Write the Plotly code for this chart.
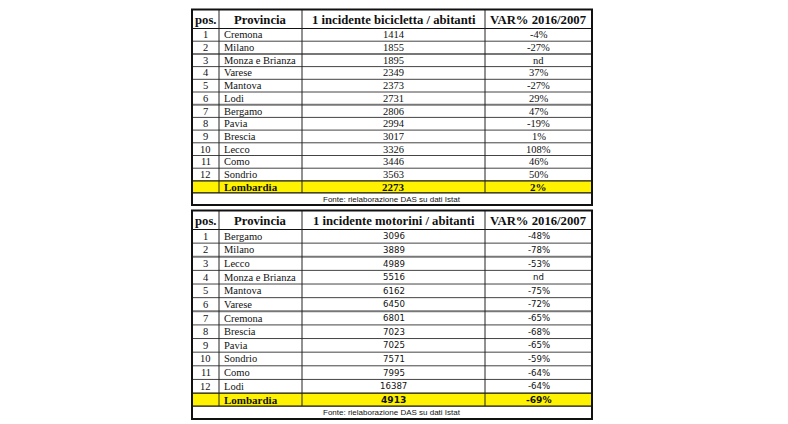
import plotly.graph_objects as go

# ---------------- data ----------------
headers_bici = ["pos.", "Provincia", "1 incidente bicicletta / abitanti", "VAR% 2016/2007"]
pos_bici = [1, 2, 3, 4, 5, 6, 7, 8, 9, 10, 11, 12]
prov_bici = ["Cremona", "Milano", "Monza e Brianza", "Varese", "Mantova", "Lodi",
             "Bergamo", "Pavia", "Brescia", "Lecco", "Como", "Sondrio"]
val_bici = [1414, 1855, 1895, 2349, 2373, 2731, 2806, 2994, 3017, 3326, 3446, 3563]
var_bici = ["-4%", "-27%", "nd", "37%", "-27%", "29%", "47%", "-19%", "1%", "108%", "46%", "50%"]
tot_bici = ["Lombardia", 2273, "2%"]

headers_moto = ["pos.", "Provincia", "1 incidente motorini / abitanti", "VAR% 2016/2007"]
pos_moto = [1, 2, 3, 4, 5, 6, 7, 8, 9, 10, 11, 12]
prov_moto = ["Bergamo", "Milano", "Lecco", "Monza e Brianza", "Mantova", "Varese",
             "Cremona", "Brescia", "Pavia", "Sondrio", "Como", "Lodi"]
val_moto = [3096, 3889, 4989, 5516, 6162, 6450, 6801, 7023, 7025, 7571, 7995, 16387]
var_moto = ["-48%", "-78%", "-53%", "nd", "-75%", "-72%", "-65%", "-68%", "-65%", "-59%", "-64%", "-64%"]
tot_moto = ["Lombardia", 4913, "-69%"]

source = "Fonte: rielaborazione DAS su dati Istat"

# ---------------- layout constants ----------------
W, H = 788, 424
COLS = [192, 219, 302, 485, 592]
SERIF = "Liberation Serif, Times New Roman, serif"
SANS = "DejaVu Sans, Verdana, sans-serif"
SANS2 = "Liberation Sans, Arial, sans-serif"
YELLOW = "#fff200"

fig = go.Figure()
# invisible trace to establish axes
fig.add_trace(go.Scatter(x=[0, W], y=[0, H], mode="markers",
                         marker=dict(opacity=0), hoverinfo="skip", showlegend=False))

shapes = []
annots = []


def line(x0, y0, x1, y1, w=1, c="#222"):
    shapes.append(dict(type="line", x0=x0, y0=y0, x1=x1, y1=y1,
                       xref="x", yref="y", line=dict(color=c, width=w)))


def rect(x0, y0, x1, y1, fill):
    shapes.append(dict(type="rect", x0=x0, y0=y0, x1=x1, y1=y1, xref="x", yref="y",
                       fillcolor=fill, line=dict(width=0), layer="below"))


def text(x, y, t, size, family, anchor="center", bold=False, color="#111"):
    if bold:
        t = "<b>" + t + "</b>"
    annots.append(dict(x=x, y=y, xref="x", yref="y", text=t, showarrow=False,
                       xanchor=anchor, yanchor="middle",
                       font=dict(size=size, family=family, color=color)))


def draw_table(top, header_h, row_h, tot_h, src_h, headers, pos, prov, vals, vars_, tot, num_font, num_size):
    n = len(prov)
    y_head = top + header_h
    y_tot = y_head + n * row_h
    y_src = y_tot + tot_h
    y_end = y_src + src_h
    # fills
    rect(COLS[0], y_tot, COLS[4], y_src, YELLOW)
    # header texts
    for i, h in enumerate(headers):
        text((COLS[i] + COLS[i + 1]) / 2, top + header_h / 2 + 0.5, h, 12.7, SERIF, bold=True)
    # rows
    for r in range(n):
        yc = y_head + (r + 0.5) * row_h
        text((COLS[0] + COLS[1]) / 2, yc, str(pos[r]), 10.5, SERIF)
        text(COLS[1] + 3, yc, prov[r], 10.5, SERIF, anchor="left")
        text((COLS[2] + COLS[3]) / 2, yc, str(vals[r]), num_size, num_font)
        text((COLS[3] + COLS[4]) / 2, yc, vars_[r], num_size, num_font)
        if r < n - 1:
            yl = y_head + (r + 1) * row_h
            if r in (1, 5):
                line(COLS[0], yl, COLS[4], yl, 2, "#777")
            else:
                line(COLS[0], yl, COLS[4], yl, 1, "#444")
    # total row
    yc = y_tot + tot_h / 2
    text(COLS[1] + 3, yc, tot[0], 11, SERIF, anchor="left", bold=True)
    text((COLS[2] + COLS[3]) / 2, yc, str(tot[1]), num_size + 0.5, num_font, bold=True)
    text((COLS[3] + COLS[4]) / 2, yc, tot[2], num_size + 0.5, num_font, bold=True)
    # source row
    text((COLS[0] + COLS[4]) / 2, y_src + src_h / 2, source, 8, SANS2)
    # grid lines
    line(COLS[0], y_head, COLS[4], y_head, 1.2, "#111")
    line(COLS[0], y_tot, COLS[4], y_tot, 1.2, "#111")
    line(COLS[0], y_src, COLS[4], y_src, 1.2, "#111")
    for c in COLS[1:4]:
        line(c, top, c, y_src, 1, "#222")
    # outer border
    shapes.append(dict(type="rect", x0=COLS[0], y0=top, x1=COLS[4], y1=y_end,
                       xref="x", yref="y", line=dict(color="#111", width=2)))


draw_table(9.5, 19, 12.7, 12, 12.2, headers_bici, pos_bici, prov_bici, val_bici, var_bici,
           tot_bici, SERIF, 10.5)
draw_table(210.5, 19, 13.63, 13, 13, headers_moto, pos_moto, prov_moto, val_moto, var_moto,
           tot_moto, SANS, 8.6)

fig.update_layout(
    width=W, height=H,
    margin=dict(l=0, r=0, t=0, b=0),
    paper_bgcolor="white", plot_bgcolor="white",
    xaxis=dict(range=[0, W], visible=False, fixedrange=True),
    yaxis=dict(range=[H, 0], visible=False, fixedrange=True),
    shapes=shapes, annotations=annots, showlegend=False,
)

fig.write_html("out.html", config=dict(displayModeBar=False),
               post_script="document.body.style.margin='0px';document.body.style.overflow='hidden';")
